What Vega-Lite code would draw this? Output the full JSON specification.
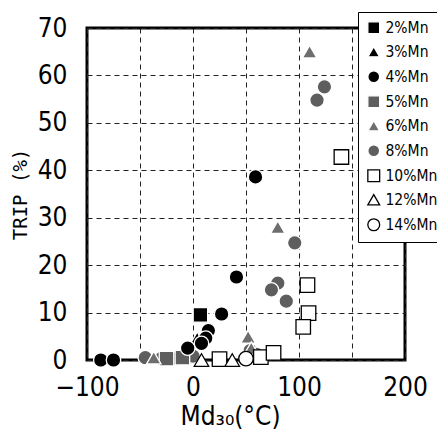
{
  "$schema": "https://vega.github.io/schema/vega-lite/v6.json",
  "width": 318,
  "height": 332,
  "autosize": "none",
  "padding": {"left": 87, "top": 28, "right": 32, "bottom": 78},
  "background": "white",
  "config": {
    "view": {"stroke": "black", "strokeWidth": 3},
    "font": "DejaVu Sans Condensed, Roboto, sans-serif"
  },
  "data": {
    "values": [
      {"mn": "8%Mn", "md": 124, "trip": 57.6},
      {"mn": "8%Mn", "md": 117, "trip": 54.8},
      {"mn": "8%Mn", "md": 96, "trip": 24.7},
      {"mn": "8%Mn", "md": 80, "trip": 16.2},
      {"mn": "8%Mn", "md": 74, "trip": 14.8},
      {"mn": "8%Mn", "md": 88, "trip": 12.4},
      {"mn": "8%Mn", "md": 54, "trip": 2.0},
      {"mn": "8%Mn", "md": 60, "trip": 1.2},
      {"mn": "8%Mn", "md": -45, "trip": 0.5},
      {"mn": "8%Mn", "md": -30, "trip": 0.3},
      {"mn": "8%Mn", "md": -15, "trip": 0.3},
      {"mn": "8%Mn", "md": -5, "trip": 0.5},
      {"mn": "8%Mn", "md": 0, "trip": 0.8},
      {"mn": "5%Mn", "md": -25, "trip": 0.3},
      {"mn": "5%Mn", "md": -10, "trip": 0.5},
      {"mn": "6%Mn", "md": 110, "trip": 65},
      {"mn": "6%Mn", "md": 80, "trip": 28},
      {"mn": "6%Mn", "md": 52, "trip": 4.9},
      {"mn": "6%Mn", "md": -37, "trip": 0.5},
      {"mn": "6%Mn", "md": 55, "trip": 2.5},
      {"mn": "2%Mn", "md": 7, "trip": 9.5},
      {"mn": "3%Mn", "md": 4, "trip": 4.6},
      {"mn": "4%Mn", "md": -87, "trip": 0},
      {"mn": "4%Mn", "md": -75, "trip": 0},
      {"mn": "4%Mn", "md": 59, "trip": 38.6},
      {"mn": "4%Mn", "md": 41, "trip": 17.5},
      {"mn": "4%Mn", "md": 27, "trip": 9.7},
      {"mn": "4%Mn", "md": 14.5, "trip": 6.2},
      {"mn": "4%Mn", "md": 12, "trip": 4.6},
      {"mn": "4%Mn", "md": 8, "trip": 3.5},
      {"mn": "4%Mn", "md": -5, "trip": 2.5},
      {"mn": "10%Mn", "md": 140, "trip": 42.8},
      {"mn": "10%Mn", "md": 108, "trip": 15.8},
      {"mn": "10%Mn", "md": 109, "trip": 9.9},
      {"mn": "10%Mn", "md": 104, "trip": 7.0},
      {"mn": "10%Mn", "md": 25, "trip": 0.2},
      {"mn": "10%Mn", "md": 64, "trip": 0.6},
      {"mn": "10%Mn", "md": 76, "trip": 1.5},
      {"mn": "12%Mn", "md": 8, "trip": 0},
      {"mn": "12%Mn", "md": 37, "trip": 0},
      {"mn": "14%Mn", "md": 50, "trip": 0.3}
    ]
  },
  "mark": {"type": "point", "filled": true, "size": 210, "strokeWidth": 1.3, "opacity": 1, "clip": false},
  "encoding": {
    "x": {
      "field": "md", "type": "quantitative",
      "scale": {"domain": [-100, 200], "nice": false, "zero": false},
      "axis": {
        "values": [-100, -50, 0, 50, 100, 150, 200],
        "labelExpr": "datum.value % 100 == 0 ? datum.label : ''",
        "grid": true, "gridColor": "#222", "gridDash": [5, 4], "gridWidth": 1,
        "domain": false, "ticks": false,
        "labelPadding": 14, "labelDx": -7,
        "labelFont": "DejaVu Sans Condensed, Roboto, sans-serif", "labelFontSize": 26, "labelColor": "black",
        "labelFlush": false,
        "title": "Md₃₀(°C)",
        "titleFont": "DejaVu Sans Condensed, Roboto, sans-serif", "titleFontSize": 26, "titleFontWeight": "normal", "titleColor": "black",
        "titleX": 143, "titleY": 56, "titleBaseline": "middle", "titleAlign": "center"
      }
    },
    "y": {
      "field": "trip", "type": "quantitative",
      "scale": {"domain": [0, 70], "nice": false},
      "axis": {
        "values": [0, 10, 20, 30, 40, 50, 60, 70],
        "grid": true, "gridColor": "#222", "gridDash": [5, 4], "gridWidth": 1,
        "domain": false, "ticks": false,
        "labelPadding": 20,
        "labelFont": "DejaVu Sans Condensed, Roboto, sans-serif", "labelFontSize": 26, "labelColor": "black",
        "labelFlush": false,
        "title": "TRIP (%)",
        "titleFont": "DejaVu Sans Mono", "titleFontSize": 19, "titleFontWeight": "normal", "titleColor": "black",
        "titleX": -67, "titleY": 166, "titleAngle": 270, "titleBaseline": "middle", "titleAlign": "center"
      }
    },
    "shape": {
      "field": "mn", "type": "nominal",
      "scale": {
        "domain": ["2%Mn", "3%Mn", "4%Mn", "5%Mn", "6%Mn", "8%Mn", "10%Mn", "12%Mn", "14%Mn"],
        "range": ["square", "triangle-up", "circle", "square", "triangle-up", "circle", "square", "triangle-up", "circle"]
      },
      "legend": {
        "title": null, "orient": "none", "legendX": 271, "legendY": -16,
        "fillColor": "white", "strokeColor": "black", "padding": 8,
        "labelFont": "DejaVu Sans Condensed, Roboto, sans-serif", "labelFontSize": 15.5, "labelColor": "black",
        "symbolSize": 140, "rowPadding": 7, "labelOffset": 4, "symbolStrokeWidth": 1.3
      }
    },
    "fill": {
      "field": "mn", "type": "nominal",
      "scale": {
        "domain": ["2%Mn", "3%Mn", "4%Mn", "5%Mn", "6%Mn", "8%Mn", "10%Mn", "12%Mn", "14%Mn"],
        "range": ["black", "black", "black", "#5e5e5e", "#6e6e6e", "#5e5e5e", "white", "white", "white"]
      },
      "legend": null
    },
    "stroke": {
      "field": "mn", "type": "nominal",
      "scale": {
        "domain": ["2%Mn", "3%Mn", "4%Mn", "5%Mn", "6%Mn", "8%Mn", "10%Mn", "12%Mn", "14%Mn"],
        "range": ["white", "white", "white", "white", "white", "white", "black", "black", "black"]
      },
      "legend": null
    }
  }
}
